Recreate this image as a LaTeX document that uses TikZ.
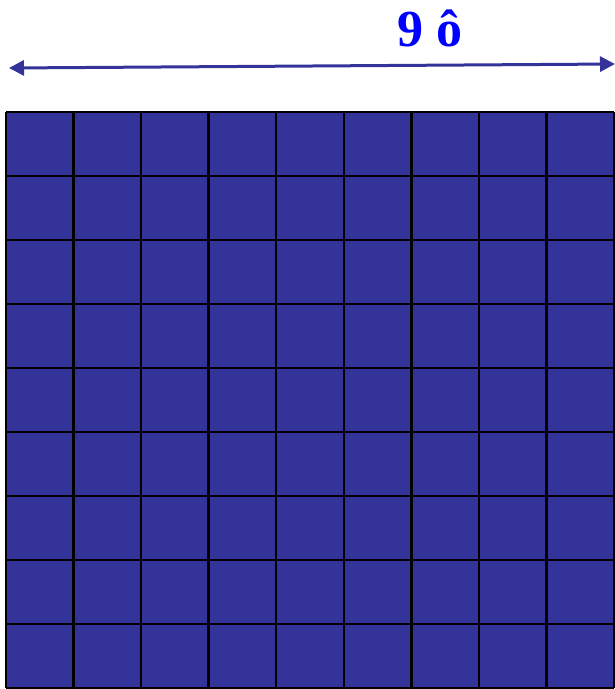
\documentclass[tikz,border=0pt]{standalone}
\usepackage{fontspec}
\setmainfont{Liberation Serif}
\usetikzlibrary{arrows.meta}
\definecolor{gridblue}{RGB}{51,51,153}
\definecolor{labelblue}{RGB}{0,0,255}

\begin{document}
\begin{tikzpicture}[x=1pt,y=-1pt, >={Triangle[length=15pt,width=15pt]},
    dim/.style={<->,draw=gridblue,line width=3pt}]
  \useasboundingbox (0,0) rectangle (615,689);
  % grid of 9 x 9 squares
  \fill[gridblue] (6,112) rectangle (614,688);
  \foreach \i in {0,...,9} {
    \draw[line width=2.4pt] ({6+\i*67.56},112) -- ({6+\i*67.56},688);
    \draw[line width=2.4pt] (6,{112+\i*64}) -- (614,{112+\i*64});
  }
  % width arrow
  \coordinate (l) at (9,68);
  \coordinate (r) at (615,64);
  \draw[dim] (l) -- (r);
  \node[font=\fontsize{52}{52}\selectfont\bfseries,color=labelblue] (lbl) at (430,28) {9 ô};
\end{tikzpicture}
\end{document}
